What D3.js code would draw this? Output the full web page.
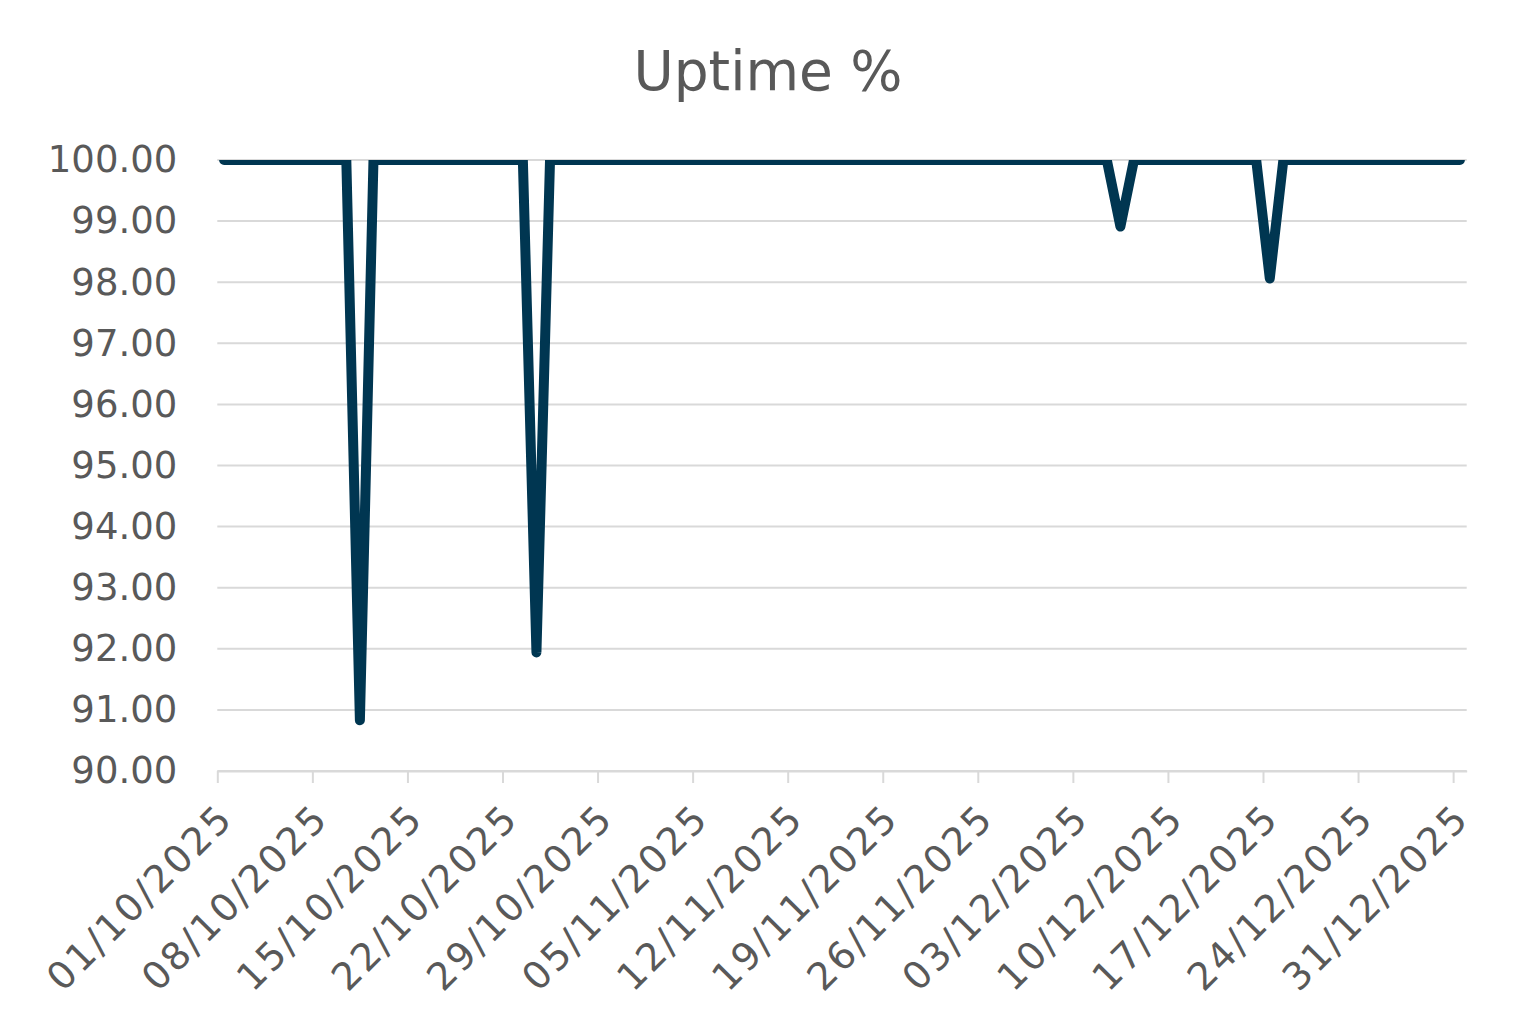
<!DOCTYPE html>
<html>
<head>
<meta charset="utf-8">
<script src="https://cdn.jsdelivr.net/npm/d3@7"></script>
<style>
  body { margin: 0; background: #fff; }
  svg text { font-family: "DejaVu Sans", sans-serif; fill: #595959; }
</style>
</head>
<body>
<div id="chart"></div>
<script>
// daily uptime, 01/10/2025 .. 31/12/2025 (one row per week)
const uptimeStart = "01/10/2025";
const uptimeValues = [
  100, 100, 100, 100, 100, 100, 100,
  100, 100, 100, 90.83, 100, 100, 100,
  100, 100, 100, 100, 100, 100, 100,
  100, 100, 91.94, 100, 100, 100, 100,
  100, 100, 100, 100, 100, 100, 100,
  100, 100, 100, 100, 100, 100, 100,
  100, 100, 100, 100, 100, 100, 100,
  100, 100, 100, 100, 100, 100, 100,
  100, 100, 100, 100, 100, 100, 100,
  100, 100, 100, 98.91, 100, 100, 100,
  100, 100, 100, 100, 100, 100, 100,
  98.06, 100, 100, 100, 100, 100, 100,
  100, 100, 100, 100, 100, 100, 100,
  100
];
const xTickLabels = ["01/10/2025", "08/10/2025", "15/10/2025", "22/10/2025", "29/10/2025",
  "05/11/2025", "12/11/2025", "19/11/2025", "26/11/2025", "03/12/2025",
  "10/12/2025", "17/12/2025", "24/12/2025", "31/12/2025"];
const yTicks = [90, 91, 92, 93, 94, 95, 96, 97, 98, 99, 100];

const W = 1539, H = 1032;
const mLeft = 217.3, mRight = 1466.7, mTop = 160, mBottom = 771;

const parseDate = d3.utcParse("%d/%m/%Y");
const fmtDate = d3.utcFormat("%d/%m/%Y");
const start = parseDate(uptimeStart);

const data = uptimeValues.map((v, i) => ({ date: d3.utcDay.offset(start, i), value: v }));

const svg = d3.select("#chart").append("svg")
    .attr("width", W)
    .attr("height", H);

// date axis, points sit in the middle of each day
const x = d3.scaleUtc()
    .domain([start, d3.utcDay.offset(start, uptimeValues.length)])
    .range([mLeft, mRight]);

const y = d3.scaleLinear()
    .domain([90, 100])
    .range([mBottom, mTop]);

// title
svg.append("text")
    .attr("x", 768)
    .attr("y", 90)
    .attr("text-anchor", "middle")
    .style("font-size", "55px")
    .text("Uptime %");

// gridlines
svg.append("g")
    .selectAll("line")
    .data(yTicks)
    .enter()
    .append("line")
    .attr("x1", mLeft)
    .attr("x2", mRight)
    .attr("y1", d => y(d))
    .attr("y2", d => y(d))
    .attr("stroke", "#d9d9d9")
    .attr("stroke-width", 2);

// y axis labels
const yAxis = d3.axisLeft(y)
    .tickValues(yTicks)
    .tickFormat(d3.format(".2f"))
    .tickSize(0)
    .tickPadding(40);

const gy = svg.append("g")
    .attr("transform", "translate(" + mLeft + ",0)")
    .call(yAxis);
gy.select(".domain").remove();
gy.selectAll("text")
    .style("font-size", "37px")
    .attr("fill", null);

// x axis
const xAxis = d3.axisBottom(x)
    .tickValues(xTickLabels.map(parseDate))
    .tickFormat(fmtDate)
    .tickSize(12)
    .tickSizeOuter(0);

const gx = svg.append("g")
    .attr("transform", "translate(0," + mBottom + ")")
    .call(xAxis);
gx.select(".domain").attr("stroke", "#d9d9d9").attr("stroke-width", 2);
gx.selectAll(".tick line").attr("stroke", "#d9d9d9").attr("stroke-width", 2);
gx.selectAll("text")
    .attr("fill", null)
    .style("font-size", "38px")
    .style("letter-spacing", "2.5px")
    .attr("text-anchor", "end")
    .attr("dy", "0.35em")
    .attr("y", 0)
    .attr("transform", "translate(8,40) rotate(-45)");

// line, clipped to the plot area like the original
svg.append("clipPath")
    .attr("id", "plot-clip")
    .append("rect")
    .attr("x", mLeft)
    .attr("y", mTop)
    .attr("width", mRight - mLeft)
    .attr("height", mBottom - mTop + 10);

svg.append("path")
    .datum(data)
    .attr("clip-path", "url(#plot-clip)")
    .attr("fill", "none")
    .attr("stroke", "#003651")
    .attr("stroke-width", 10)
    .attr("stroke-linecap", "round")
    .attr("stroke-linejoin", "round")
    .attr("d", d3.line()
        .x(d => x(d3.utcHour.offset(d.date, 12)))
        .y(d => y(d.value)));
</script>
</body>
</html>
